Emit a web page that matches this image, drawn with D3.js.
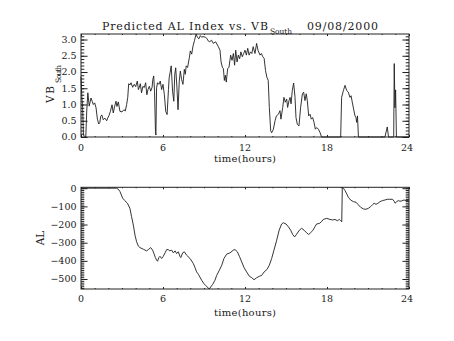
<!DOCTYPE html>
<html>
<head>
<meta charset="utf-8">
<script src="https://cdn.jsdelivr.net/npm/d3@7/dist/d3.min.js"></script>
<style>
  html, body { margin: 0; padding: 0; background: #fff; }
  svg { display: block; }
  text { font-family: "DejaVu Serif", serif; fill: #1a1a1a; }
</style>
</head>
<body>
<svg id="chart" width="454" height="341"></svg>
<script>
// Solar wind driver VB_South (mV/m) and predicted AL index (nT), 09/08/2000
const vbHours = [0.00,0.06,0.12,0.18,0.35,0.42,0.50,0.60,0.73,0.82,0.90,1.00,1.10,1.20,1.30,1.38,1.44,1.52,1.63,1.75,1.88,1.95,2.05,2.15,2.27,2.36,2.46,2.56,2.63,2.73,2.85,3.00,3.14,3.24,3.34,3.42,3.49,3.58,3.66,3.78,3.90,4.00,4.12,4.20,4.26,4.34,4.43,4.53,4.63,4.73,4.82,4.90,5.00,5.10,5.20,5.26,5.32,5.38,5.45,5.48,5.53,5.60,5.70,5.80,5.90,6.00,6.10,6.20,6.30,6.40,6.45,6.52,6.60,6.70,6.79,6.86,6.93,7.02,7.10,7.19,7.27,7.36,7.46,7.56,7.63,7.70,7.80,7.93,8.00,8.10,8.20,8.30,8.42,8.52,8.62,8.73,8.83,8.93,9.10,9.20,9.30,9.42,9.55,9.68,9.85,10.05,10.17,10.25,10.34,10.42,10.49,10.56,10.63,10.73,10.83,10.95,11.05,11.15,11.24,11.32,11.42,11.51,11.61,11.70,11.80,11.90,12.00,12.10,12.20,12.30,12.40,12.50,12.60,12.73,12.85,12.95,13.10,13.20,13.30,13.40,13.50,13.60,13.70,13.78,13.88,13.95,14.07,14.20,14.30,14.44,14.56,14.63,14.76,14.85,14.95,15.05,15.12,15.22,15.30,15.37,15.46,15.56,15.66,15.73,15.83,15.95,16.07,16.20,16.29,16.39,16.48,16.56,16.66,16.76,16.85,16.95,17.05,17.15,17.25,17.37,17.50,17.60,19.00,19.07,19.20,19.32,19.44,19.56,19.68,19.76,19.85,19.97,20.05,20.12,20.17,20.23,20.30,22.24,22.41,22.50,22.88,22.92,22.97,23.02,23.08,24.00];
const vbValues = [1.85,1.25,0.90,0.05,0.00,0.80,1.36,0.95,1.20,1.10,1.00,1.05,0.90,0.55,0.40,0.45,0.63,0.68,0.53,0.58,0.50,0.58,0.66,0.79,0.99,0.74,0.94,1.10,0.94,1.08,0.79,0.77,0.84,0.80,1.00,1.22,1.64,1.60,1.67,1.53,1.62,1.55,1.72,1.46,1.52,1.64,1.36,1.56,1.52,1.67,1.30,1.46,1.56,1.41,1.53,1.78,1.88,1.41,0.17,0.06,1.51,1.67,1.62,1.72,1.46,1.62,1.30,0.79,0.69,1.46,1.82,1.98,2.19,1.41,1.10,1.93,2.13,1.51,0.84,1.72,2.03,1.77,1.62,2.08,1.93,2.19,2.14,2.45,2.65,2.55,2.81,2.96,3.17,3.07,3.02,3.12,3.07,3.09,3.07,3.04,2.96,2.93,2.98,2.88,2.93,2.78,2.67,2.31,2.15,2.10,1.74,1.90,1.69,2.10,2.15,2.52,2.36,2.57,2.21,2.67,2.31,2.52,2.41,2.62,2.47,2.57,2.67,2.52,2.73,2.52,2.62,2.57,2.78,2.57,2.88,2.67,2.52,2.57,2.47,2.42,2.05,1.84,1.74,0.91,0.19,0.13,0.23,0.50,0.65,0.70,0.81,0.55,0.91,1.22,1.07,1.17,0.91,1.12,1.22,1.02,1.43,1.66,1.22,0.60,0.39,0.34,0.91,1.33,1.38,1.12,1.33,1.12,0.65,0.70,0.55,0.60,0.45,0.24,0.29,0.24,0.13,0.00,0.00,1.22,1.43,1.59,1.43,1.38,1.22,1.27,1.07,0.81,0.65,0.60,0.45,0.65,0.00,0.00,0.31,0.00,0.00,2.26,0.90,1.45,0.00,0.00];

const alHours = [0,2.6,2.72,2.85,3.05,3.2,3.4,3.58,3.7,3.83,3.95,4.07,4.2,4.32,4.56,4.8,4.93,5.1,5.24,5.34,5.44,5.54,5.6,5.7,5.78,5.9,6.02,6.15,6.27,6.38,6.5,6.63,6.76,6.88,7.0,7.12,7.24,7.3,7.44,7.56,7.73,7.98,8.22,8.34,8.46,8.59,8.7,8.83,9.0,9.12,9.24,9.38,9.49,9.63,9.8,9.93,10.12,10.3,10.46,10.66,10.9,11.15,11.27,11.44,11.59,11.76,11.93,12.12,12.32,12.5,12.66,12.85,13.05,13.22,13.4,13.6,13.78,13.95,14.12,14.32,14.5,14.68,14.8,15.0,15.17,15.34,15.49,15.63,15.78,15.98,16.15,16.32,16.5,16.66,16.8,16.95,17.12,17.24,17.44,17.59,17.73,17.98,18.22,18.41,18.58,18.76,18.9,19.0,19.08,19.12,19.2,19.32,19.44,19.56,19.73,19.93,20.12,20.3,20.46,20.66,20.85,21.02,21.2,21.34,21.45,21.59,21.73,21.88,22.07,22.24,22.41,22.6,22.8,22.93,22.98,23.1,23.22,23.34,23.46,23.63,23.78,23.95,24];
const alValues = [0,0,-5,-18,-55,-68,-83,-111,-157,-203,-258,-295,-319,-327,-336,-345,-338,-327,-341,-360,-382,-397,-402,-382,-375,-387,-375,-356,-338,-338,-345,-341,-356,-345,-360,-350,-375,-382,-356,-350,-369,-387,-415,-437,-461,-474,-489,-507,-526,-535,-544,-555,-544,-530,-507,-480,-452,-424,-387,-363,-356,-341,-338,-350,-375,-406,-437,-461,-485,-493,-504,-493,-485,-480,-461,-448,-424,-387,-341,-286,-231,-197,-190,-197,-212,-231,-255,-268,-253,-231,-221,-231,-245,-255,-245,-234,-212,-197,-194,-185,-172,-166,-172,-175,-172,-179,-172,-179,-185,5,0,-13,-31,-50,-65,-74,-77,-92,-105,-114,-116,-111,-101,-90,-83,-89,-83,-74,-68,-65,-61,-61,-61,-74,-83,-74,-68,-72,-70,-65,-68,-68,-70];

// Tick values and labels
const hourTicks = [0, 6, 12, 18, 24];
const hourMinor = d3.range(0, 25, 1);
const vbTicks = [0, 0.5, 1.0, 1.5, 2.0, 2.5, 3.0];
const vbTickLabels = ["0.0", "0.5", "1.0", "1.5", "2.0", "2.5", "3.0"];
const vbMinor = d3.range(0, 3.2, 0.1);
const alTicks = [-500, -400, -300, -200, -100, 0];
const alTickLabels = ["\u2212500", "\u2212400", "\u2212300", "\u2212200", "\u2212100", "0"];
const alMinor = d3.range(-550, 1, 10);

const svg = d3.select("#chart");

function panel(cfg) {
  const { x0, x1, y0, y1, hours, values, yTicks, yLabels, yMinor, xTickY, xTitleY } = cfg;
  const x = d3.scaleLinear().domain([0, 24]).range([x0, x1]);
  const y = d3.scaleLinear().domain(d3.extent(values)).range([y1, y0]);
  const W = x1 - x0, H = y1 - y0;
  const yLen = 0.02 * W, xLen = 0.02 * H;
  const g = svg.append("g");

  const style = sel => {
    sel.select(".domain").remove();
    sel.selectAll("line").attr("stroke", "#222").attr("stroke-width", 1);
  };

  // y ticks, inward on both sides
  const yInRange = yMinor.filter(v => v >= y.domain()[0] - 1e-9 && v <= y.domain()[1] + 1e-9);
  g.append("g").attr("transform", `translate(${x0},0)`)
    .call(d3.axisLeft(y).tickValues(yInRange).tickSize(-yLen / 2).tickFormat("")).call(style);
  g.append("g").attr("transform", `translate(${x1},0)`)
    .call(d3.axisRight(y).tickValues(yInRange).tickSize(-yLen / 2).tickFormat("")).call(style);
  g.append("g").attr("transform", `translate(${x0},0)`)
    .call(d3.axisLeft(y).tickValues(yTicks).tickSize(-yLen).tickFormat("")).call(style);
  g.append("g").attr("transform", `translate(${x1},0)`)
    .call(d3.axisRight(y).tickValues(yTicks).tickSize(-yLen).tickFormat("")).call(style);

  // x ticks, inward on top and bottom
  g.append("g").attr("transform", `translate(0,${y1})`)
    .call(d3.axisBottom(x).tickValues(hourMinor).tickSize(-xLen / 2).tickFormat("")).call(style);
  g.append("g").attr("transform", `translate(0,${y0})`)
    .call(d3.axisTop(x).tickValues(hourMinor).tickSize(-xLen / 2).tickFormat("")).call(style);
  g.append("g").attr("transform", `translate(0,${y1})`)
    .call(d3.axisBottom(x).tickValues(hourTicks).tickSize(-xLen).tickFormat("")).call(style);
  g.append("g").attr("transform", `translate(0,${y0})`)
    .call(d3.axisTop(x).tickValues(hourTicks).tickSize(-xLen).tickFormat("")).call(style);

  // frame
  g.append("rect").attr("x", x0).attr("y", y0).attr("width", W).attr("height", H)
    .attr("fill", "none").attr("stroke", "#222").attr("stroke-width", 1);

  // tick labels
  g.selectAll(".ylab").data(yTicks).join("text")
    .attr("x", x0 - 4.5).attr("y", d => y(d) + 3.4)
    .attr("text-anchor", "end").attr("font-size", 9.5)
    .text((d, i) => yLabels[i]);
  g.selectAll(".xlab").data(hourTicks).join("text")
    .attr("x", d => x(d) - (d === 24 ? 2 : 0)).attr("y", xTickY)
    .attr("text-anchor", "middle").attr("font-size", 9.5)
    .text(d => String(d));
  g.append("text").attr("x", (x0 + x1) / 2).attr("y", xTitleY)
    .attr("text-anchor", "middle").attr("font-size", 10)
    .attr("textLength", 62).attr("lengthAdjust", "spacing")
    .text("time(hours)");

  // data trace
  const line = d3.line().x((d, i) => x(hours[i])).y(d => y(d));
  g.append("path").datum(values)
    .attr("d", line)
    .attr("fill", "none").attr("stroke", "#1e1e1e").attr("stroke-width", 0.9)
    .attr("stroke-linejoin", "round");

  return { x, y };
}

panel({ x0: 81, x1: 409, y0: 34, y1: 137, hours: vbHours, values: vbValues,
        yTicks: vbTicks, yLabels: vbTickLabels, yMinor: vbMinor, xTickY: 150.5, xTitleY: 162 });
panel({ x0: 81, x1: 409, y0: 187.3, y1: 289, hours: alHours, values: alValues,
        yTicks: alTicks, yLabels: alTickLabels, yMinor: alMinor, xTickY: 302, xTitleY: 315.5 });

// title
svg.append("text").attr("x", 102).attr("y", 29.5).attr("font-size", 11)
  .attr("textLength", 166).attr("lengthAdjust", "spacing")
  .text("Predicted AL Index vs. VB");
svg.append("text").attr("x", 270).attr("y", 34).attr("font-size", 7.5)
  .attr("textLength", 22).attr("lengthAdjust", "spacing")
  .text("South");
svg.append("text").attr("x", 307).attr("y", 29.5).attr("font-size", 11)
  .attr("textLength", 71).attr("lengthAdjust", "spacing")
  .text("09/08/2000");

// y-axis titles
svg.append("text").attr("transform", "translate(54,103) rotate(-90)")
  .attr("font-size", 10.5).attr("textLength", 17).attr("lengthAdjust", "spacing")
  .text("VB");
svg.append("text").attr("transform", "translate(60.5,83) rotate(-90)")
  .attr("font-size", 7.5).attr("textLength", 18).attr("lengthAdjust", "spacing")
  .text("South");
svg.append("text").attr("transform", "translate(44,238) rotate(-90)")
  .attr("text-anchor", "middle").attr("font-size", 10.5)
  .text("AL");
</script>
</body>
</html>
